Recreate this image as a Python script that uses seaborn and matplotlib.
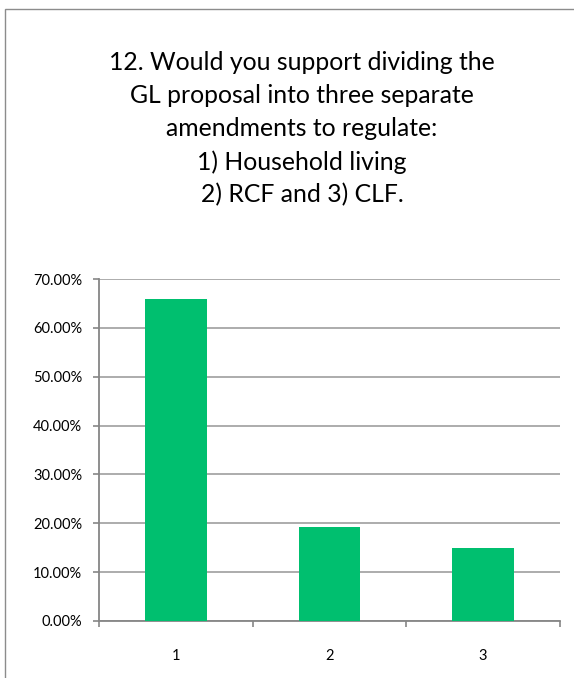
import matplotlib
matplotlib.use("Agg")
import matplotlib.pyplot as plt
import matplotlib.patches as mpatches
from matplotlib.ticker import PercentFormatter, FixedLocator
import seaborn as sns
import pandas as pd

# Survey responses (share of respondents)
categories = ["1", "2", "3"]
shares = [0.6596, 0.1915, 0.1489]
y_ticks = [0.0, 0.1, 0.2, 0.3, 0.4, 0.5, 0.6, 0.7]

title_lines = [
    "12. Would you support dividing the",
    "GL proposal into three separate",
    "amendments to regulate:",
    "1) Household living",
    "2) RCF and 3) CLF.",
]

sns.set_theme(style="white")
plt.rcParams["font.family"] = ["Lato", "DejaVu Sans"]

W, H = 574, 678
fig = plt.figure(figsize=(W / 100, H / 100), dpi=100)
fig.patch.set_facecolor("white")

# chart-area frame (cropped on the right and bottom)
frame = mpatches.Rectangle((5 / W, -0.1), 1.2, 1 - 9 / H + 0.1,
                           transform=fig.transFigure, fill=False,
                           edgecolor="#8c8c8c", linewidth=1.0)
fig.add_artist(frame)

ax = fig.add_axes([99 / W, 1 - 621 / H, (560 - 99) / W, (621 - 279) / H])

df = pd.DataFrame({"option": categories, "share": shares})
sns.barplot(data=df, x="option", y="share", color="#00BF6F", saturation=1,
            width=0.4, ax=ax, zorder=3, edgecolor="none")

ax.set_ylim(0, 0.7)
ax.set_xlim(-0.5, 2.5)
ax.yaxis.set_major_locator(FixedLocator(y_ticks))
ax.yaxis.set_major_formatter(PercentFormatter(1.0, decimals=2))
ax.grid(axis="y", color="#a6a6a6", linewidth=1.3, zorder=0)
ax.set_axisbelow(True)
ax.set_xlabel("")
ax.set_ylabel("")

for side in ["top", "right"]:
    ax.spines[side].set_visible(False)
for side in ["left", "bottom"]:
    ax.spines[side].set_color("#868686")
    ax.spines[side].set_linewidth(1.3)

ax.tick_params(axis="y", which="major", left=True, length=4, width=1.2,
               color="#868686", pad=8, labelsize=10.5, labelcolor="black")
ax.tick_params(axis="x", which="major", bottom=False, pad=14,
               labelsize=10.5, labelcolor="black")
ax.set_xticks([-0.5, 0.5, 1.5, 2.5], minor=True)
ax.tick_params(axis="x", which="minor", bottom=True, length=4, width=1.2,
               color="#868686")

# multi-line title
for i, line in enumerate(title_lines):
    fig.text(302 / W, 1 - (62 + i * 33.25) / H, line, ha="center",
             va="center", fontsize=17.8, color="black")

fig.savefig("out.png", dpi=100, facecolor="white")
